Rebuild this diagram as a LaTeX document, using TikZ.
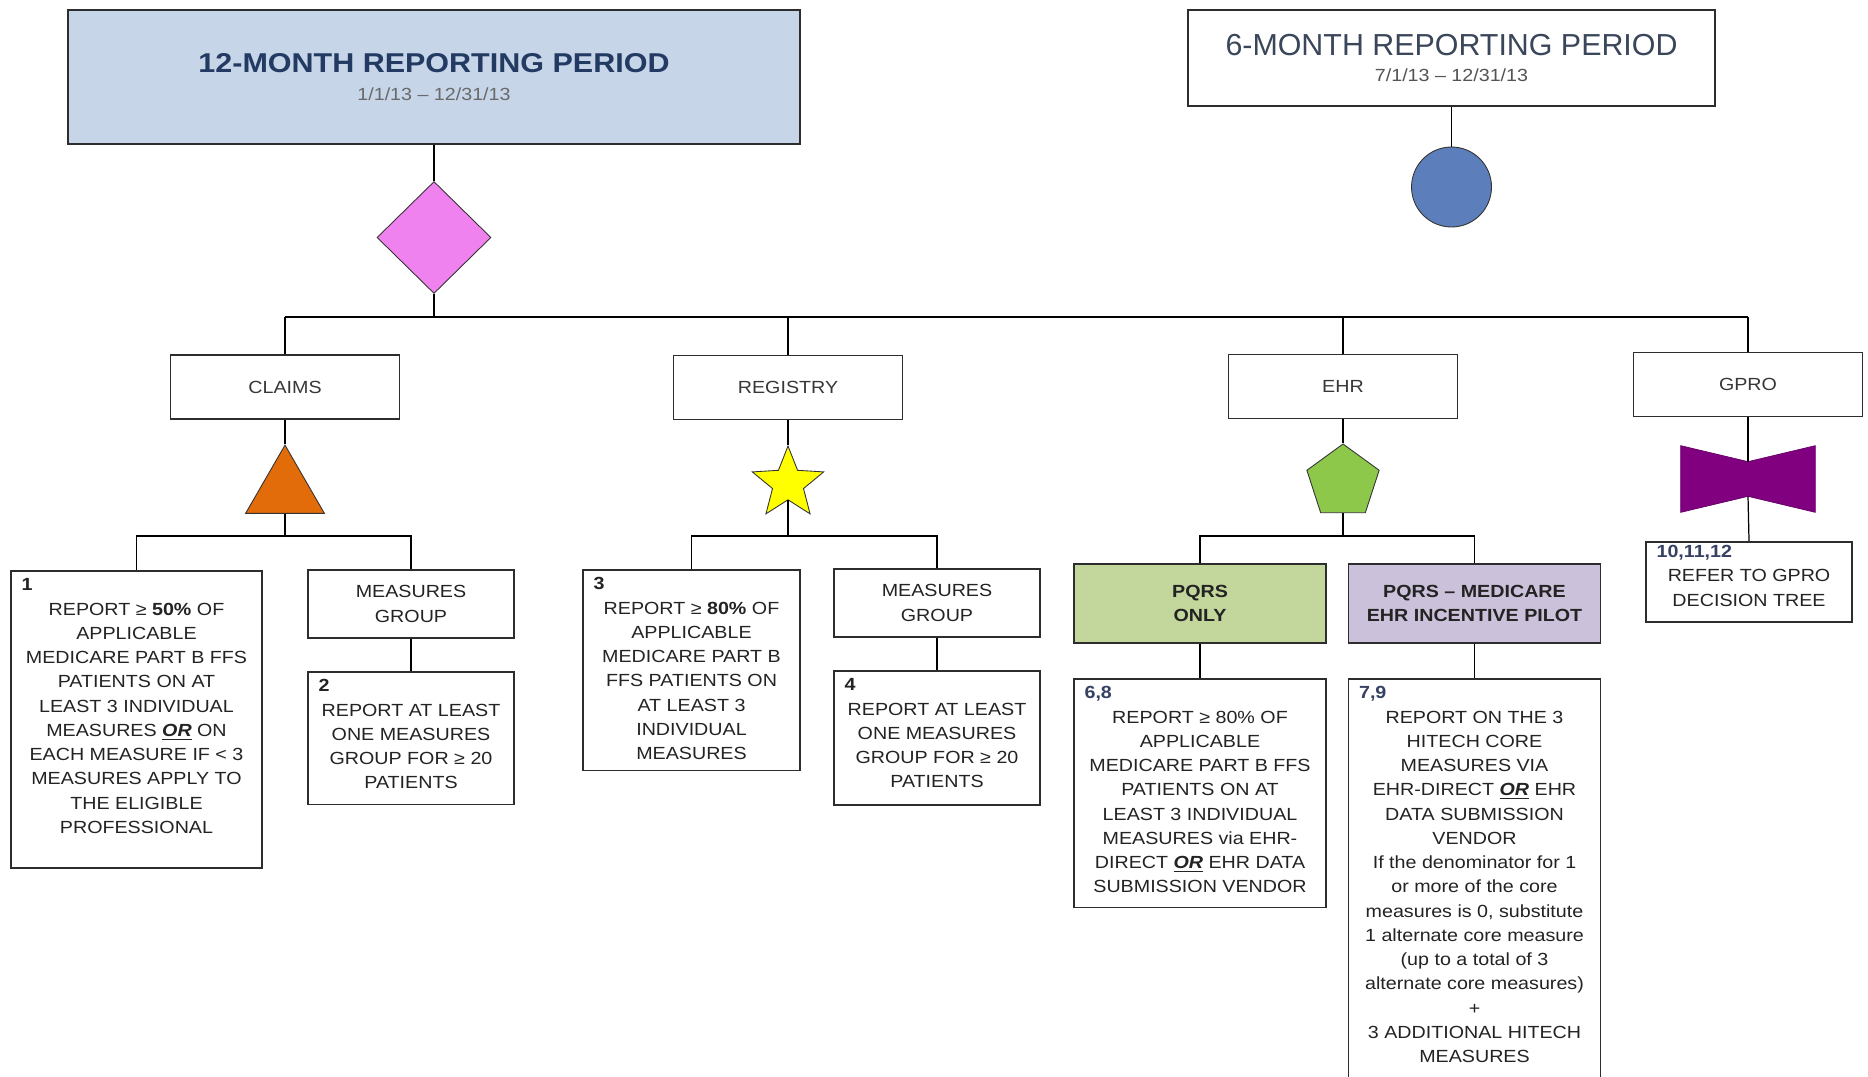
\documentclass[tikz,border=0pt]{standalone}
\usepackage{fontspec}
\setmainfont{Liberation Sans}[FakeStretch=1.12]
\newfontfamily\plainsans{Liberation Sans}
\usetikzlibrary{shapes.geometric,positioning,calc}

\definecolor{lineGray}{RGB}{45,45,45}
\definecolor{yearFill}{RGB}{199,213,233}
\definecolor{navyTitle}{RGB}{35,58,98}
\definecolor{dateGray}{RGB}{105,105,105}
\definecolor{slateTitle}{RGB}{58,70,90}
\definecolor{labelGray}{RGB}{55,55,55}
\definecolor{bodyGray}{RGB}{35,35,35}
\definecolor{numSlate}{RGB}{55,65,100}
\definecolor{diaPink}{RGB}{240,130,240}
\definecolor{dotBlue}{RGB}{92,126,186}
\definecolor{triOrange}{RGB}{226,107,10}
\definecolor{starYellow}{RGB}{255,255,0}
\definecolor{pentGreen}{RGB}{141,200,74}
\definecolor{bowPurple}{RGB}{128,0,128}
\definecolor{onlyGreen}{RGB}{195,214,155}
\definecolor{pilotLilac}{RGB}{204,193,218}

\newcommand{\ortag}{\underline{\textbf{\textit{OR}}}}
\newcommand{\refnum}[1]{\hspace*{4pt}\textbf{\textcolor{bodyGray}{#1}}\hfill\null}
\newcommand{\refnumB}[1]{\hspace*{4pt}\textbf{\textcolor{numSlate}{#1}}\hfill\null}

\begin{document}
\begin{tikzpicture}[x=0.02cm,y=-0.02cm,
				periodBox/.style={draw=lineGray,line width=1pt,align=center,inner sep=0pt,font=\fontsize{10}{12}\selectfont},
				methodBox/.style={draw=lineGray,line width=0.9pt,fill=white,minimum width=4.58cm,minimum height=1.28cm,inner sep=0pt,text=labelGray,font=\fontsize{10}{12}\selectfont},
				textBox/.style={draw=lineGray,line width=0.9pt,fill=white,anchor=north,align=flush center,inner xsep=2pt,inner ysep=4.5pt,text=bodyGray,font=\fontsize{10}{13.8}\selectfont},
				groupBox/.style={draw=lineGray,line width=0.9pt,fill=white,minimum width=4.12cm,minimum height=1.36cm,align=center,inner sep=0pt,text=bodyGray,font=\fontsize{10}{13.8}\selectfont},
				pqrsBox/.style={groupBox,minimum width=5.04cm,minimum height=1.58cm,font=\bfseries\fontsize{10}{13.8}\selectfont},
				symbolShape/.style={draw=black!80,line width=0.5pt,inner sep=0pt},
				link/.style={draw=black,line width=0.7pt}]
			\useasboundingbox (0,0) rectangle (1868,1077);

			\node [periodBox,fill=yearFill,minimum width=14.64cm,minimum height=2.68cm] (year) at (434,77)
				{{\fontsize{15.5}{18}\selectfont\bfseries\color{navyTitle}12-MONTH REPORTING PERIOD}\\[3.6pt]{\color{dateGray}1/1/13 – 12/31/13}};
			\node [periodBox,fill=white,minimum width=10.54cm,minimum height=1.92cm] (half) at (1451.5,58)
				{{\plainsans\fontsize{17.3}{20}\selectfont\color{slateTitle}6-MONTH REPORTING PERIOD}\\[3.3pt]{\color{dateGray!80!black}7/1/13 – 12/31/13}};

			\node [diamond,symbolShape,fill=diaPink,minimum width=2.28cm,minimum height=2.24cm] (dia) at (434,237.5) {};
			\node [circle,symbolShape,fill=dotBlue,minimum size=1.6cm] (dot) at (1451.5,187) {};

			\node [methodBox] (claims) at (285,387) {CLAIMS};
			\node [methodBox] (registry) at (788,387.5) {REGISTRY};
			\node [methodBox] (ehr) at (1343,386.5) {EHR};
			\node [methodBox] (gpro) at (1748,384.5) {GPRO};

			\node [regular polygon,regular polygon sides=3,symbolShape,fill=triOrange,minimum size=1.82cm] (tri) at (285,490.6) {};
			\node [star,star points=5,star point ratio=2.3,symbolShape,fill=starYellow,minimum size=1.5cm] (regStar) at (788,483.5) {};
			\node [regular polygon,regular polygon sides=5,symbolShape,fill=pentGreen,minimum size=1.52cm] (pent) at (1343,482) {};
			\node [minimum width=2.68cm,minimum height=1.32cm,inner sep=0pt] (bow) at (1748,479) {};
			\coordinate (bowTop) at ($(bow.north)+(0,16)$);
			\coordinate (bowBot) at ($(bow.south)+(0,-16)$);
			\filldraw [bowPurple,draw=bowPurple!80!black,line width=0.4pt] (bow.north west) -- (bowTop) -- (bow.north east) -- (bow.south east) -- (bowBot) -- (bow.south west) -- cycle;

			\node [textBox,text width=4.88cm,text depth=5.39cm] (c1) at (136.5,570)
				{\refnum{1}\\REPORT ≥ \textbf{50\%} OF\\APPLICABLE\\MEDICARE PART B FFS\\PATIENTS ON AT\\LEAST 3 INDIVIDUAL\\MEASURES \ortag{} ON\\EACH MEASURE IF < 3\\MEASURES APPLY TO\\THE ELIGIBLE\\PROFESSIONAL};
			\node [groupBox] (cmg) at (411,604) {MEASURES\\GROUP};
			\node [textBox,text width=3.98cm,text depth=2.09cm] (c2) at (411,671)
				{\refnum{2}\\REPORT AT LEAST\\ONE MEASURES\\GROUP FOR ≥ 20\\PATIENTS};

			\node [textBox,text width=4.2cm,text depth=3.45cm] (r3) at (691.5,569)
				{\refnum{3}\\REPORT ≥ \textbf{80\%} OF\\APPLICABLE\\MEDICARE PART B\\FFS PATIENTS ON\\AT LEAST 3\\INDIVIDUAL\\MEASURES};
			\node [groupBox] (rmg) at (937,603) {MEASURES\\GROUP};
			\node [textBox,text width=3.98cm,text depth=2.13cm] (r4) at (937,670)
				{\refnum{4}\\REPORT AT LEAST\\ONE MEASURES\\GROUP FOR ≥ 20\\PATIENTS};

			\node [pqrsBox,fill=onlyGreen] (only) at (1200,603.5) {PQRS\\ONLY};
			\node [pqrsBox,fill=pilotLilac] (pilot) at (1474.5,603.5) {PQRS – MEDICARE\\EHR INCENTIVE PILOT};
			\node [textBox,text width=4.9cm,text depth=4.01cm] (e68) at (1200,678)
				{\refnumB{6,8}\\REPORT ≥ 80\% OF\\APPLICABLE\\MEDICARE PART B FFS\\PATIENTS ON AT\\LEAST 3 INDIVIDUAL\\MEASURES via EHR-\\DIRECT \ortag{} EHR DATA\\SUBMISSION VENDOR};
			\node [textBox,text width=4.9cm,text depth=7.45cm] (e79) at (1474.5,678)
				{\refnumB{7,9}\\REPORT ON THE 3\\HITECH CORE\\MEASURES VIA\\EHR-DIRECT \ortag{} EHR\\DATA SUBMISSION\\VENDOR\\If the denominator for 1\\or more of the core\\measures is 0, substitute\\1 alternate core measure\\(up to a total of 3\\alternate core measures)\\+\\3 ADDITIONAL HITECH\\MEASURES};

			\node [textBox,text width=3.98cm,inner ysep=2pt,text depth=1.22cm] (g10) at (1749,541)
				{\refnumB{10,11,12}\\REFER TO GPRO\\DECISION TREE};

			\coordinate (bus) at (0,317);
			\coordinate (sub) at (0,536);
			\draw [link] (year) -- (dia);
			\draw [link] (half) -- (dot);
			\draw [link] (dia.south) -- (dia.south |- bus);
			\draw [link] (claims.north |- bus) -- (gpro.north |- bus);
			\foreach \m in {claims,registry,ehr,gpro}
				\draw [link] (\m.north |- bus) -- (\m.north);
			\draw [link] (claims) -- (tri);
			\draw [link] (registry) -- (regStar);
			\draw [link] (ehr) -- (pent);
			\draw [link] (gpro.south) -- (bowTop);
			\draw [link] (bowBot) -- (g10.north);
			\foreach \s/\a/\b in {tri/c1/cmg,regStar/r3/rmg,pent/only/pilot} {
				\draw [link] (\s.south) -- (\s.south |- sub);
				\draw [link] (\a.north) -- (\a.north |- sub) -- (\b.north |- sub) -- (\b.north);
			}
			\draw [link] (cmg) -- (c2);
			\draw [link] (rmg) -- (r4);
			\draw [link] (only) -- (e68);
			\draw [link] (pilot) -- (e79);
		\end{tikzpicture}
\end{document}
